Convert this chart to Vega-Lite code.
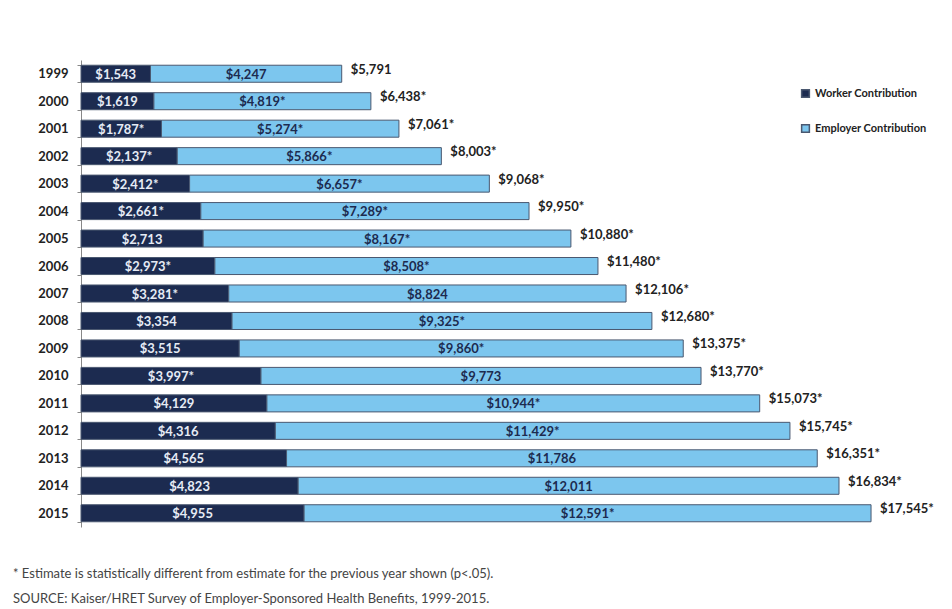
{
  "$schema": "https://vega.github.io/schema/vega-lite/v6.json",
  "width": 790,
  "height": 467,
  "autosize": {"type": "none"},
  "padding": {"left": 81, "top": 60, "right": 81, "bottom": 82},
  "background": "white",
  "config": {"view": {"stroke": null}, "font": "Lato"},
  "datasets": {
    "bars": [
      {"year": "1999", "type": "Worker Contribution", "order": 1, "value": 1543, "label": "$1,543"},
      {"year": "1999", "type": "Employer Contribution", "order": 2, "value": 4247, "label": "$4,247"},
      {"year": "2000", "type": "Worker Contribution", "order": 1, "value": 1619, "label": "$1,619"},
      {"year": "2000", "type": "Employer Contribution", "order": 2, "value": 4819, "label": "$4,819*"},
      {"year": "2001", "type": "Worker Contribution", "order": 1, "value": 1787, "label": "$1,787*"},
      {"year": "2001", "type": "Employer Contribution", "order": 2, "value": 5274, "label": "$5,274*"},
      {"year": "2002", "type": "Worker Contribution", "order": 1, "value": 2137, "label": "$2,137*"},
      {"year": "2002", "type": "Employer Contribution", "order": 2, "value": 5866, "label": "$5,866*"},
      {"year": "2003", "type": "Worker Contribution", "order": 1, "value": 2412, "label": "$2,412*"},
      {"year": "2003", "type": "Employer Contribution", "order": 2, "value": 6657, "label": "$6,657*"},
      {"year": "2004", "type": "Worker Contribution", "order": 1, "value": 2661, "label": "$2,661*"},
      {"year": "2004", "type": "Employer Contribution", "order": 2, "value": 7289, "label": "$7,289*"},
      {"year": "2005", "type": "Worker Contribution", "order": 1, "value": 2713, "label": "$2,713"},
      {"year": "2005", "type": "Employer Contribution", "order": 2, "value": 8167, "label": "$8,167*"},
      {"year": "2006", "type": "Worker Contribution", "order": 1, "value": 2973, "label": "$2,973*"},
      {"year": "2006", "type": "Employer Contribution", "order": 2, "value": 8508, "label": "$8,508*"},
      {"year": "2007", "type": "Worker Contribution", "order": 1, "value": 3281, "label": "$3,281*"},
      {"year": "2007", "type": "Employer Contribution", "order": 2, "value": 8824, "label": "$8,824"},
      {"year": "2008", "type": "Worker Contribution", "order": 1, "value": 3354, "label": "$3,354"},
      {"year": "2008", "type": "Employer Contribution", "order": 2, "value": 9325, "label": "$9,325*"},
      {"year": "2009", "type": "Worker Contribution", "order": 1, "value": 3515, "label": "$3,515"},
      {"year": "2009", "type": "Employer Contribution", "order": 2, "value": 9860, "label": "$9,860*"},
      {"year": "2010", "type": "Worker Contribution", "order": 1, "value": 3997, "label": "$3,997*"},
      {"year": "2010", "type": "Employer Contribution", "order": 2, "value": 9773, "label": "$9,773"},
      {"year": "2011", "type": "Worker Contribution", "order": 1, "value": 4129, "label": "$4,129"},
      {"year": "2011", "type": "Employer Contribution", "order": 2, "value": 10944, "label": "$10,944*"},
      {"year": "2012", "type": "Worker Contribution", "order": 1, "value": 4316, "label": "$4,316"},
      {"year": "2012", "type": "Employer Contribution", "order": 2, "value": 11429, "label": "$11,429*"},
      {"year": "2013", "type": "Worker Contribution", "order": 1, "value": 4565, "label": "$4,565"},
      {"year": "2013", "type": "Employer Contribution", "order": 2, "value": 11786, "label": "$11,786"},
      {"year": "2014", "type": "Worker Contribution", "order": 1, "value": 4823, "label": "$4,823"},
      {"year": "2014", "type": "Employer Contribution", "order": 2, "value": 12011, "label": "$12,011"},
      {"year": "2015", "type": "Worker Contribution", "order": 1, "value": 4955, "label": "$4,955"},
      {"year": "2015", "type": "Employer Contribution", "order": 2, "value": 12591, "label": "$12,591*"}
    ],
    "totals": [
      {"year": "1999", "total": 5791, "label": "$5,791"},
      {"year": "2000", "total": 6438, "label": "$6,438*"},
      {"year": "2001", "total": 7061, "label": "$7,061*"},
      {"year": "2002", "total": 8003, "label": "$8,003*"},
      {"year": "2003", "total": 9068, "label": "$9,068*"},
      {"year": "2004", "total": 9950, "label": "$9,950*"},
      {"year": "2005", "total": 10880, "label": "$10,880*"},
      {"year": "2006", "total": 11480, "label": "$11,480*"},
      {"year": "2007", "total": 12106, "label": "$12,106*"},
      {"year": "2008", "total": 12680, "label": "$12,680*"},
      {"year": "2009", "total": 13375, "label": "$13,375*"},
      {"year": "2010", "total": 13770, "label": "$13,770*"},
      {"year": "2011", "total": 15073, "label": "$15,073*"},
      {"year": "2012", "total": 15745, "label": "$15,745*"},
      {"year": "2013", "total": 16351, "label": "$16,351*"},
      {"year": "2014", "total": 16834, "label": "$16,834*"},
      {"year": "2015", "total": 17545, "label": "$17,545*"}
    ]
  },
  "title": {
    "text": [
      "* Estimate is statistically different from estimate for the previous year shown (p<.05).",
      "SOURCE:  Kaiser/HRET Survey of Employer-Sponsored Health Benefits, 1999-2015."
    ],
    "orient": "bottom",
    "anchor": "start",
    "frame": "group",
    "dx": -68,
    "offset": 41,
    "font": "Lato",
    "fontSize": 13,
    "fontWeight": "normal",
    "color": "#444444",
    "lineHeight": 25
  },
  "layer": [
    {
      "data": {"name": "bars"},
      "mark": {"type": "bar", "stroke": "#4a5870", "strokeWidth": 1},
      "encoding": {
        "y": {
          "field": "year",
          "type": "ordinal",
          "scale": {"paddingInner": 0.38, "paddingOuter": 0.19},
          "axis": {
            "title": null,
            "domainColor": "#888888",
            "tickColor": "#888888",
            "tickBand": "extent",
            "tickSize": 4,
            "labelPadding": 9,
            "labelFont": "Lato",
            "labelFontSize": 13,
            "labelFontWeight": "bold",
            "labelColor": "#222222"
          }
        },
        "x": {
          "field": "value",
          "type": "quantitative",
          "stack": "zero",
          "scale": {"domain": [0, 17545], "nice": false},
          "axis": null
        },
        "color": {
          "field": "type",
          "type": "nominal",
          "scale": {
            "domain": ["Worker Contribution", "Employer Contribution"],
            "range": ["#1c2b50", "#7cc6ee"]
          },
          "legend": {
            "orient": "none",
            "legendX": 719,
            "legendY": 28,
            "title": null,
            "symbolType": "square",
            "symbolSize": 60,
            "rowPadding": 20,
            "labelFont": "Lato",
            "labelFontSize": 11,
            "labelFontWeight": "bold",
            "labelColor": "#222222"
          }
        },
        "order": {"field": "order", "type": "quantitative"}
      }
    },
    {
      "data": {"name": "bars"},
      "transform": [
        {"stack": "value", "groupby": ["year"], "sort": [{"field": "order"}], "as": ["v0", "v1"]},
        {"calculate": "(datum.v0 + datum.v1) / 2", "as": "mid"}
      ],
      "mark": {"type": "text", "font": "Lato", "fontSize": 13, "fontWeight": "bold", "dy": 1},
      "encoding": {
        "y": {"field": "year", "type": "ordinal"},
        "x": {"field": "mid", "type": "quantitative"},
        "text": {"field": "label"},
        "color": {
          "condition": {"test": "datum.type === 'Worker Contribution'", "value": "#e6ebf5"},
          "value": "#1c2b50"
        }
      }
    },
    {
      "data": {"name": "totals"},
      "mark": {"type": "text", "align": "left", "dx": 9, "dy": -4, "font": "Lato", "fontSize": 13, "fontWeight": "bold", "color": "#222222"},
      "encoding": {
        "y": {"field": "year", "type": "ordinal"},
        "x": {"field": "total", "type": "quantitative"},
        "text": {"field": "label"}
      }
    }
  ]
}
